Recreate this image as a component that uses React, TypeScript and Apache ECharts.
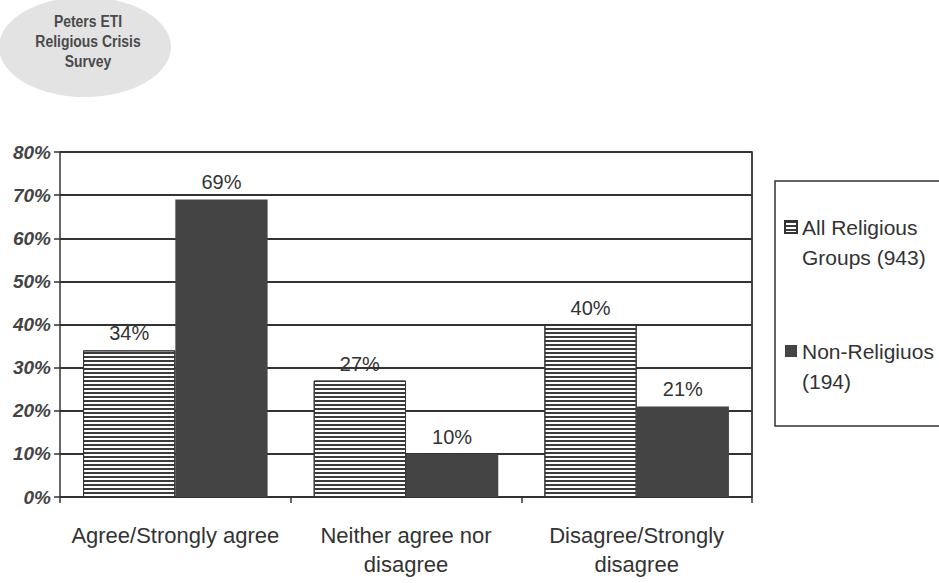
import React, { useEffect, useRef } from "react";
import * as echarts from "echarts";

const categories = ["Agree/Strongly agree", "Neither agree nor\ndisagree", "Disagree/Strongly\ndisagree"];
const seriesNames = ["All Religious\nGroups (943)", "Non-Religiuos\n(194)"];
const allReligious = [34, 27, 40];
const nonReligious = [69, 10, 21];
const yTicks = { min: 0, max: 80, interval: 10 };
const logoLines = ["Peters ETI", "Religious Crisis", "Survey"];

const INK = "#333333";
const DARK = "#444444";
const FONT = "'Liberation Sans', Arial, sans-serif";

export default function App() {
  const ref = useRef<HTMLDivElement>(null);
  useEffect(() => {
    if (!ref.current) return;
    const chart = echarts.init(ref.current, null, { renderer: "svg" });
    const hatch = {
      symbol: "rect",
      symbolSize: 1,
      dashArrayX: [10, 0],
      dashArrayY: [2, 2],
      color: "#3c3c3c",
      rotation: 0,
    };
    chart.setOption({
      animation: false,
      backgroundColor: "#ffffff",
      textStyle: { fontFamily: FONT },
      grid: { left: 60, right: 187, top: 152, bottom: 86, containLabel: false },
      legend: {
        orient: "vertical",
        left: 779,
        top: 177,
        itemWidth: 12,
        itemHeight: 12,
        itemGap: 34,
        icon: "rect",
        formatter: (name: string) => "\n" + name,
        textStyle: { fontSize: 21, color: INK, lineHeight: 30 },
        data: seriesNames,
      },
      xAxis: {
        type: "category",
        data: categories,
        axisLine: { lineStyle: { color: INK, width: 1.5 } },
        axisTick: { show: true, length: 6, lineStyle: { color: INK, width: 1.5 } },
        axisLabel: { fontSize: 22, color: INK, lineHeight: 29, margin: 24, interval: 0 },
      },
      yAxis: [
        {
          type: "value",
          min: yTicks.min,
          max: yTicks.max,
          interval: yTicks.interval,
          axisLine: { show: true, lineStyle: { color: INK, width: 1.5 } },
          axisTick: { show: true, length: 6, lineStyle: { color: INK, width: 1.5 } },
          axisLabel: {
            formatter: "{value}%",
            fontSize: 19,
            fontStyle: "italic",
            fontWeight: "bold",
            color: "#444",
            margin: 9,
          },
          splitLine: { show: true, lineStyle: { color: INK, width: 1.8 } },
        },
        {
          type: "value",
          position: "right",
          min: yTicks.min,
          max: yTicks.max,
          interval: yTicks.interval,
          axisLine: { show: true, lineStyle: { color: INK, width: 1.8 } },
          axisTick: { show: false },
          axisLabel: { show: false },
          splitLine: { show: false },
        },
      ],
      series: [
        {
          name: seriesNames[0],
          type: "bar",
          data: allReligious,
          barGap: "0%",
          barCategoryGap: "20%",
          itemStyle: { color: "#ffffff", borderColor: INK, borderWidth: 1, decal: hatch },
          label: { show: true, position: "top", formatter: "{c}%", fontSize: 20, color: INK, distance: 7 },
        },
        {
          name: seriesNames[1],
          type: "bar",
          data: nonReligious,
          itemStyle: { color: DARK },
          label: { show: true, position: "top", formatter: "{c}%", fontSize: 20, color: INK, distance: 7 },
        },
      ],
      graphic: [
        {
          type: "rect",
          shape: { x: 775, y: 181, width: 200, height: 245 },
          style: { fill: "none", stroke: INK, lineWidth: 1.5 },
          z: -1,
        },
        {
          type: "ellipse",
          shape: { cx: 85, cy: 47, rx: 86, ry: 50 },
          style: { fill: "#e3e3e3", stroke: "none" },
          z: -1,
        },
        {
          type: "text",
          x: 88,
          y: 41,
          scaleX: 0.82,
          originX: 0,
          style: {
            text: logoLines.join("\n"),
            fontFamily: FONT,
            fontWeight: "bold",
            fontSize: 17,
            lineHeight: 20,
            fill: "#4a4a4a",
            align: "center",
            verticalAlign: "middle",
          },
        },
      ],
    });
    return () => chart.dispose();
  }, []);
  return <div ref={ref} style={{ width: 939, height: 583, position: "absolute", left: 0, top: 0 }} />;
}
